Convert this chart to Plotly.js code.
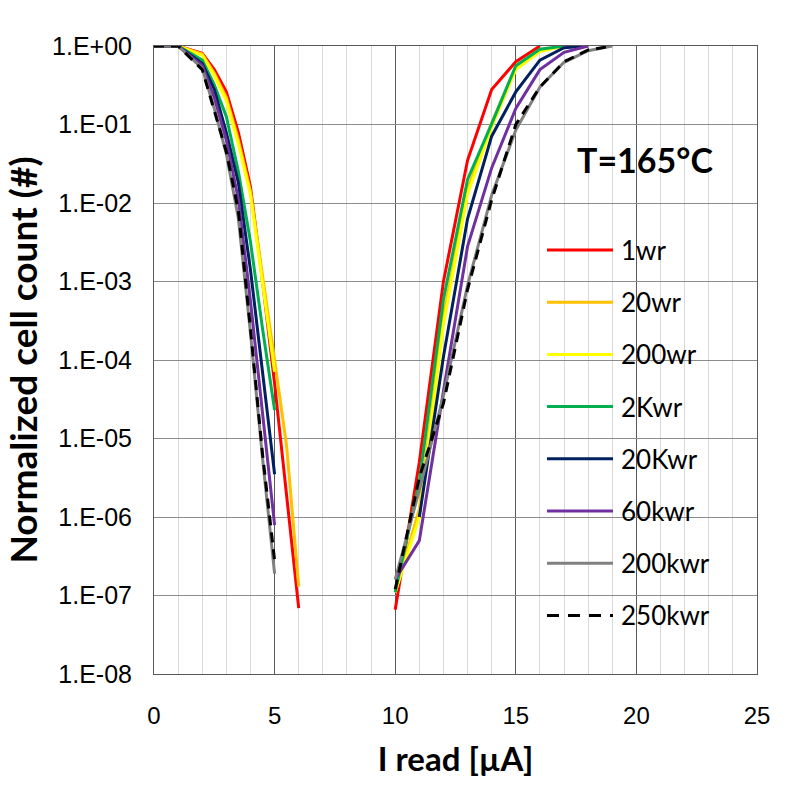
<!DOCTYPE html>
<html>
<head>
<meta charset="utf-8">
<script src="https://cdn.plot.ly/plotly-3.0.1.min.js"></script>
<style>html,body{margin:0;padding:0;background:#fff;}#chart{width:789px;height:804px;}</style>
</head>
<body>
<div id="chart"></div>
<script>
// ---- data ----
const seriesNames = ["1wr", "20wr", "200wr", "2Kwr", "20Kwr", "60kwr", "200kwr", "250kwr"];
const seriesColors = ["#FF0000", "#FFC000", "#FFFF00", "#00B050", "#002060", "#7030A0", "#808080", "#000000"];

const xLeft = [0, 1, 2, 2.5, 3, 3.5, 4, 4.5, 5, 5.5, 6];
const xRight = [10, 11, 12, 13, 14, 15, 16, 17, 18, 19];

const left1wr    = [1, 1, 0.81, 0.50, 0.26, 0.079, 0.016, 1.0e-3, 5.0e-5, 2.0e-6, 6.9e-8];
const left20wr   = [1, 1, 0.79, 0.45, 0.22, 0.063, 0.014, 1.26e-3, 1.0e-4, 7.9e-6, 1.3e-7];
const left200wr  = [1, 1, 0.76, 0.42, 0.20, 0.056, 0.0126, 1.0e-3, 7.1e-5, null, null];
const left2Kwr   = [1, 1, 0.66, 0.32, 0.126, 0.025, 3.2e-3, 2.5e-4, 2.3e-5, null, null];
const left20Kwr  = [1, 1, 0.60, 0.28, 0.079, 0.018, 1.4e-3, 7.1e-5, 3.5e-6, null, null];
const left60kwr  = [1, 1, 0.56, 0.22, 0.063, 0.011, 5.6e-4, 2.0e-5, 7.9e-7, null, null];
const left200kwr = [1, 1, 0.52, 0.16, 0.042, 6.3e-3, 2.2e-4, 5.6e-6, 1.9e-7, null, null];
const left250kwr = [1, 1, 0.50, 0.15, 0.045, 7.9e-3, 2.5e-4, 6.3e-6, 2.8e-7, null, null];

const right1wr    = [6.6e-8, 5.0e-6, 1.0e-3, 0.035, 0.28, 0.63, 1, null, null, null];
const right20wr   = [1.1e-7, 1.26e-6, 3.5e-4, 0.015, 0.105, 0.54, 0.89, 1, null, null];
const right200wr  = [1.1e-7, 1.0e-6, 2.8e-4, 0.013, 0.093, 0.50, 0.85, 1, null, null];
const right2Kwr   = [1.1e-7, 2.8e-6, 5.9e-4, 0.020, 0.102, 0.56, 0.91, 1, null, null];
const right20Kwr  = [null, 1.0e-6, 1.1e-4, 6.3e-3, 0.071, 0.26, 0.66, 0.95, 1, null];
const right60kwr  = [1.6e-7, 5.0e-7, 4.0e-5, 2.8e-3, 0.028, 0.16, 0.50, 0.83, 1, null];
const right200kwr = [1.6e-7, 2.2e-6, 3.5e-5, 8.9e-4, 0.0126, 0.085, 0.30, 0.62, 0.87, 1];
const right250kwr = [1.2e-7, 3.2e-6, 2.8e-5, 7.9e-4, 0.011, 0.10, 0.30, 0.63, 0.89, 1];

const yTickVals = [1, 1e-1, 1e-2, 1e-3, 1e-4, 1e-5, 1e-6, 1e-7, 1e-8];
const yTickText = ["1.E+00", "1.E-01", "1.E-02", "1.E-03", "1.E-04", "1.E-05", "1.E-06", "1.E-07", "1.E-08"];
const xTickVals = [0, 5, 10, 15, 20, 25];

// ---- build traces ----
const leftSets = [left1wr, left20wr, left200wr, left2Kwr, left20Kwr, left60kwr, left200kwr, left250kwr];
const rightSets = [right1wr, right20wr, right200wr, right2Kwr, right20Kwr, right60kwr, right200kwr, right250kwr];

const traces = seriesNames.map((name, i) => ({
  type: "scatter",
  mode: "lines",
  name: name,
  x: xLeft.concat([null], xRight),
  y: leftSets[i].concat([null], rightSets[i]),
  connectgaps: false,
  line: {color: seriesColors[i], width: 3, dash: i === 7 ? "10px,7px" : "solid"},
  hoverinfo: "skip"
}));

// ---- custom legend (long line samples like the reference) ----
const W = 789, H = 804, ML = 154, MR = 32, MT = 46, MB = 130;
const pw = W - ML - MR, ph = H - MT - MB;
const px = v => (v - ML) / pw;
const py = v => (H - MB - v) / ph;

const shapes = [
  {type: "rect", xref: "paper", yref: "paper", x0: px(530), x1: px(737), y0: py(642), y1: py(222),
   fillcolor: "#ffffff", line: {width: 0}, layer: "between"},
  {type: "rect", xref: "paper", yref: "paper", x0: px(558), x1: px(730), y0: py(197), y1: py(122),
   fillcolor: "#ffffff", line: {width: 0}, layer: "between"}
];
const annotations = [
  {xref: "paper", yref: "paper", x: px(645), y: py(160), text: "T=165°C", showarrow: false,
   xanchor: "center", yanchor: "middle", font: {family: "Lato", size: 34, weight: "bold", color: "#000"}}
];
seriesNames.forEach((name, i) => {
  const rowY = 250 + i * 52.2;
  shapes.push({type: "line", xref: "paper", yref: "paper", x0: px(547), x1: px(613), y0: py(rowY), y1: py(rowY),
    line: {color: seriesColors[i], width: 3, dash: i === 7 ? "12px,9px" : "solid"}, layer: "above"});
  annotations.push({xref: "paper", yref: "paper", x: px(619), y: py(rowY), text: name, showarrow: false,
    xanchor: "left", yanchor: "middle", font: {family: "Lato", size: 26, color: "#000"}});
});

const layout = {
  width: W, height: H,
  margin: {l: ML, r: MR, t: MT, b: MB, pad: 0},
  paper_bgcolor: "#ffffff", plot_bgcolor: "#ffffff",
  showlegend: false,
  xaxis: {
    range: [0, 25], tickvals: xTickVals, ticks: "", ticklabelstandoff: 20,
    showgrid: true, gridcolor: "#595959", gridwidth: 1,
    minor: {dtick: 1, tick0: 0, showgrid: true, gridcolor: "#d9d9d9", gridwidth: 1},
    zeroline: false, showline: true, linecolor: "#595959", linewidth: 1, mirror: true,
    tickfont: {family: "Liberation Sans", size: 24, color: "#000"},
    title: {text: "I read [µA]", standoff: 20, font: {family: "Lato", size: 33, weight: "bold", color: "#000"}}
  },
  yaxis: {
    type: "log", range: [-8, 0], tickvals: yTickVals, ticktext: yTickText, ticks: "", ticklabelstandoff: 16,
    showgrid: true, gridcolor: "#8c8c8c", gridwidth: 1,
    zeroline: false, showline: true, linecolor: "#595959", linewidth: 1, mirror: true,
    tickfont: {family: "Liberation Sans", size: 25, color: "#000"},
    title: {text: "Normalized cell count (#)", standoff: 5, font: {family: "Lato", size: 37, weight: "bold", color: "#000"}}
  },
  shapes: shapes,
  annotations: annotations
};

Plotly.newPlot("chart", traces, layout, {staticPlot: true, displayModeBar: false});
</script>
</body>
</html>
